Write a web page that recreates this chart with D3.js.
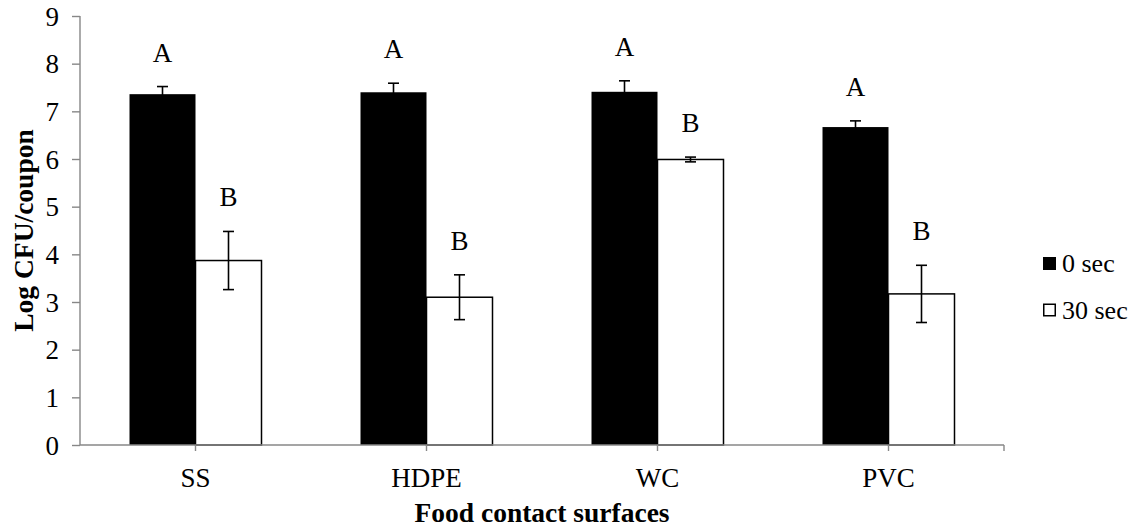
<!DOCTYPE html>
<html>
<head>
<meta charset="utf-8">
<script src="https://cdn.jsdelivr.net/npm/d3@7"></script>
<style>
  body { margin: 0; background: #fff; }
  svg text { font-family: "Liberation Serif", "Times New Roman", serif; fill: #000; }
</style>
</head>
<body>
<div id="chart"></div>
<script>
// data
var surfaces = ["SS", "HDPE", "WC", "PVC"];
var seriesNames = ["0 sec", "30 sec"];
var means0 = [7.36, 7.40, 7.41, 6.67];
var errs0 = [0.16, 0.19, 0.23, 0.13];
var means30 = [3.87, 3.10, 5.99, 3.17];
var errs30 = [0.61, 0.47, 0.05, 0.60];
var letters0 = ["A", "A", "A", "A"];
var letters30 = ["B", "B", "B", "B"];
var yTicks = [0, 1, 2, 3, 4, 5, 6, 7, 8, 9];

var width = 1135, height = 531;
var margin = { top: 16, right: 131, bottom: 86, left: 80 };
var axisGray = "#878787";

var svg = d3.select("#chart").append("svg")
  .attr("width", width)
  .attr("height", height);

var g = svg.append("g")
  .attr("transform", "translate(" + margin.left + "," + margin.top + ")");

var w = width - margin.left - margin.right,
    h = height - margin.top - margin.bottom;

var x = d3.scaleBand()
  .domain(surfaces)
  .range([0, w])
  .paddingInner(0.4286)
  .paddingOuter(0.2143);

var xs = d3.scaleBand()
  .domain(seriesNames)
  .range([0, x.bandwidth()]);

var y = d3.scaleLinear()
  .domain([0, 9])
  .range([h, 0]);

var rows = surfaces.map(function(s, i) {
  return {
    surface: s,
    vals: [
      { series: seriesNames[0], v: means0[i], e: errs0[i], letter: letters0[i] },
      { series: seriesNames[1], v: means30[i], e: errs30[i], letter: letters30[i] }
    ]
  };
});

// y axis
var yAxis = g.append("g")
  .call(d3.axisLeft(y).tickValues(yTicks).tickSize(8).tickPadding(13).tickFormat(d3.format("d")));
yAxis.selectAll("path, line").attr("stroke", axisGray).attr("stroke-width", 1.4);
yAxis.select(".domain").attr("d", "M0," + y(9) + "V" + y(0));
yAxis.selectAll("text").attr("font-size", "27px").attr("dy", "0.34em");

// groups of bars
var grp = g.selectAll(".grp")
  .data(rows)
  .enter().append("g")
  .attr("class", "grp")
  .attr("transform", function(d) { return "translate(" + x(d.surface) + ",0)"; });

grp.selectAll("rect")
  .data(function(d) { return d.vals; })
  .enter().append("rect")
  .attr("x", function(d) { return xs(d.series); })
  .attr("y", function(d) { return y(d.v); })
  .attr("width", xs.bandwidth())
  .attr("height", function(d) { return h - y(d.v); })
  .attr("fill", function(d, i) { return i === 0 ? "#000" : "#fff"; })
  .attr("stroke", "#000")
  .attr("stroke-width", function(d, i) { return i === 0 ? 0 : 1.5; });

// error bars
var eb = grp.selectAll(".err")
  .data(function(d) { return d.vals; })
  .enter().append("g")
  .attr("class", "err")
  .attr("transform", function(d) { return "translate(" + (xs(d.series) + xs.bandwidth() / 2) + ",0)"; });

eb.append("line")
  .attr("y1", function(d) { return y(d.v + d.e); })
  .attr("y2", function(d) { return y(d.v - d.e); })
  .attr("stroke", "#000").attr("stroke-width", 1.6);
eb.append("line")
  .attr("x1", -5.5).attr("x2", 5.5)
  .attr("y1", function(d) { return y(d.v + d.e); })
  .attr("y2", function(d) { return y(d.v + d.e); })
  .attr("stroke", "#000").attr("stroke-width", 1.6);
eb.append("line")
  .attr("x1", -5.5).attr("x2", 5.5)
  .attr("y1", function(d) { return y(d.v - d.e); })
  .attr("y2", function(d) { return y(d.v - d.e); })
  .attr("stroke", "#000").attr("stroke-width", 1.6);

// significance letters
eb.append("text")
  .attr("y", function(d) { return y(d.v + d.e) - 25; })
  .attr("text-anchor", "middle")
  .attr("font-size", "27px")
  .text(function(d) { return d.letter; });

// x axis
var xAxis = g.append("g")
  .attr("transform", "translate(0," + h + ")");
xAxis.append("line")
  .attr("x1", 0).attr("x2", w)
  .attr("stroke", axisGray).attr("stroke-width", 1.4);
xAxis.selectAll(".tick")
  .data(surfaces)
  .enter().append("line")
  .attr("x1", function(d) { return x(d) + x.bandwidth() / 2; })
  .attr("x2", function(d) { return x(d) + x.bandwidth() / 2; })
  .attr("y1", 0).attr("y2", 6)
  .attr("stroke", axisGray).attr("stroke-width", 1.4);
xAxis.append("line")
  .attr("x1", w).attr("x2", w).attr("y1", 0).attr("y2", 6)
  .attr("stroke", axisGray).attr("stroke-width", 1.4);
xAxis.selectAll(".lbl")
  .data(surfaces)
  .enter().append("text")
  .attr("x", function(d) { return x(d) + x.bandwidth() / 2; })
  .attr("y", 42)
  .attr("text-anchor", "middle")
  .attr("font-size", "27px")
  .text(function(d) { return d; });

// axis titles
svg.append("text")
  .attr("x", margin.left + w / 2)
  .attr("y", 522)
  .attr("text-anchor", "middle")
  .attr("font-size", "27.5px")
  .attr("font-weight", "bold")
  .text("Food contact surfaces");

svg.append("text")
  .attr("transform", "translate(33," + (margin.top + h / 2) + ") rotate(-90)")
  .attr("text-anchor", "middle")
  .attr("font-size", "27.5px")
  .attr("font-weight", "bold")
  .text("Log CFU/coupon");

// legend
var legend = svg.append("g")
  .attr("transform", "translate(1043,257)");
var li = legend.selectAll(".li")
  .data(seriesNames)
  .enter().append("g")
  .attr("transform", function(d, i) { return "translate(0," + i * 46.5 + ")"; });
li.append("rect")
  .attr("x", 0.75).attr("y", 0.75)
  .attr("width", 11.5).attr("height", 11.5)
  .attr("fill", function(d, i) { return i === 0 ? "#000" : "#fff"; })
  .attr("stroke", "#000").attr("stroke-width", 1.5);
li.append("text")
  .attr("x", 19)
  .attr("y", 15)
  .attr("font-size", "26px")
  .text(function(d) { return d; });
</script>
</body>
</html>
